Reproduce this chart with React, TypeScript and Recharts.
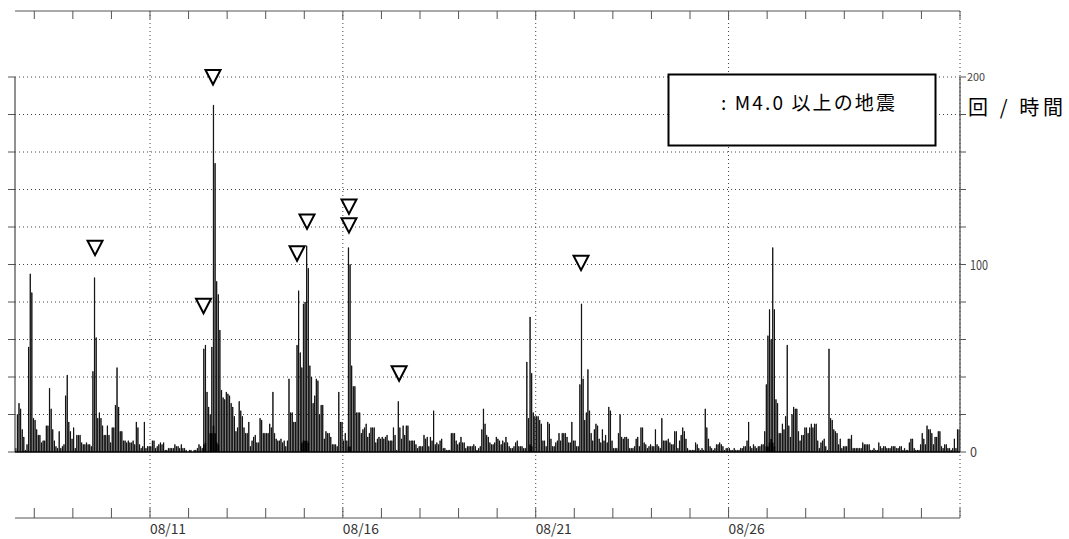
import { ComposedChart, Bar, Scatter, XAxis, YAxis, CartesianGrid, ReferenceLine } from 'recharts';

// hourly counts (回/時間). 08/07 starts at 12:00, every other day at 00:00
const aug07 = [2, 20, 26, 23, 12, 8, 1, 4, 56, 95, 85, 18];
const aug08 = [17, 12, 9, 9, 5, 6, 6, 14, 14, 34, 23, 12, 6, 3, 2, 11, 2, 3, 4, 30, 41, 16, 11, 7];
const aug09 = [13, 2, 9, 9, 9, 5, 4, 4, 5, 4, 4, 3, 43, 93, 61, 18, 21, 18, 14, 9, 9, 14, 9, 5];
const aug10 = [13, 13, 25, 45, 24, 11, 11, 6, 6, 5, 6, 5, 5, 6, 4, 16, 13, 4, 2, 3, 16, 2, 3, 3];
const aug11 = [3, 6, 6, 2, 3, 4, 5, 4, 5, 1, 1, 2, 2, 2, 2, 4, 3, 3, 2, 4, 2, 2, 1, 0];
const aug12 = [1, 1, 0, 1, 1, 2, 4, 3, 2, 55, 57, 32, 24, 20, 56, 185, 154, 91, 84, 65, 33, 29, 28, 32];
const aug13 = [31, 30, 26, 24, 19, 11, 13, 27, 22, 19, 13, 10, 10, 16, 3, 6, 8, 9, 5, 5, 18, 17, 10, 10];
const aug14 = [10, 10, 15, 13, 32, 10, 7, 6, 6, 7, 5, 6, 3, 6, 39, 21, 21, 16, 16, 57, 86, 53, 45, 79];
const aug15 = [80, 110, 98, 46, 40, 26, 30, 39, 38, 20, 25, 25, 7, 11, 10, 10, 8, 4, 4, 4, 3, 32, 16, 16];
const aug16 = [6, 10, 6, 109, 100, 46, 35, 35, 21, 21, 21, 10, 12, 13, 15, 8, 10, 13, 13, 13, 5, 7, 8, 7];
const aug17 = [8, 7, 8, 9, 6, 6, 6, 13, 9, 1, 27, 13, 7, 14, 9, 14, 14, 6, 6, 6, 6, 4, 2, 3];
const aug18 = [3, 3, 9, 7, 8, 3, 8, 6, 22, 4, 5, 4, 6, 7, 2, 2, 1, 1, 1, 10, 10, 10, 6, 4];
const aug19 = [5, 8, 5, 5, 2, 3, 3, 3, 3, 4, 3, 1, 2, 3, 12, 23, 15, 9, 8, 5, 4, 4, 5, 8];
const aug20 = [7, 6, 4, 6, 5, 8, 5, 3, 2, 2, 3, 5, 6, 3, 3, 3, 2, 2, 48, 18, 72, 42, 21, 19];
const aug21 = [19, 19, 17, 15, 6, 6, 3, 16, 15, 7, 3, 3, 5, 6, 10, 6, 10, 10, 10, 8, 5, 5, 16, 6];
const aug22 = [6, 3, 3, 36, 79, 39, 17, 21, 44, 22, 10, 6, 12, 15, 14, 7, 5, 12, 6, 9, 5, 24, 22, 6];
const aug23 = [2, 2, 2, 10, 20, 8, 7, 8, 8, 7, 2, 2, 2, 3, 7, 8, 3, 13, 13, 5, 4, 2, 3, 4];
const aug24 = [3, 3, 12, 4, 3, 2, 18, 6, 6, 6, 7, 5, 4, 4, 11, 11, 2, 6, 9, 13, 11, 7, 2, 1];
const aug25 = [1, 1, 1, 5, 4, 2, 1, 2, 1, 23, 13, 7, 3, 2, 1, 2, 4, 4, 5, 4, 3, 1, 2, 2];
const aug26 = [2, 1, 1, 2, 1, 1, 1, 2, 2, 3, 3, 6, 16, 3, 2, 4, 3, 2, 3, 3, 4, 4, 11, 36];
const aug27 = [62, 76, 60, 109, 76, 28, 26, 10, 10, 15, 12, 19, 57, 14, 8, 20, 24, 23, 23, 11, 6, 9, 9, 13];
const aug28 = [13, 10, 13, 15, 13, 15, 15, 6, 2, 5, 6, 7, 3, 1, 55, 18, 17, 12, 11, 10, 4, 7, 2, 3];
const aug29 = [3, 3, 7, 7, 9, 2, 2, 2, 2, 2, 2, 5, 4, 4, 4, 4, 1, 1, 2, 1, 1, 5, 3, 2];
const aug30 = [3, 3, 2, 2, 2, 3, 3, 3, 2, 2, 3, 3, 1, 2, 1, 1, 5, 7, 7, 2, 1, 1, 1, 4];
const aug31 = [10, 7, 4, 14, 12, 12, 10, 4, 8, 8, 11, 11, 3, 2, 4, 4, 2, 2, 1, 2, 7, 2, 12, 12];

// black part at the foot of some hourly bars
const blackCounts: [string, number][] = [
  ['08/12 09', 4], ['08/12 10', 5], ['08/12 13', 10], ['08/12 14', 10], ['08/12 15', 14],
  ['08/12 16', 10], ['08/12 17', 5], ['08/12 18', 4],
  ['08/14 22', 5], ['08/14 23', 6], ['08/15 00', 6], ['08/15 01', 6], ['08/15 02', 5],
  ['08/16 03', 3], ['08/16 04', 3], ['08/20 20', 4], ['08/20 21', 3],
  ['08/26 23', 3], ['08/27 00', 3], ['08/27 01', 5], ['08/27 02', 7], ['08/27 03', 5], ['08/27 04', 3],
];

// M4.0+ events and the height of their ▽ mark
const m4Times = ['08/09 13:48', '08/12 09:18', '08/12 15:12', '08/14 19:30', '08/15 01:42', '08/16 03:48', '08/16 03:48', '08/17 11:00', '08/22 04:12'];
const m4Marks = [109, 78, 200, 106, 123, 131, 121, 42, 101];

const dateLabels = ['08/11', '08/16', '08/21', '08/26'];
const countTicks = [0, 20, 40, 60, 80, 100, 120, 140, 160, 180, 200];
const countLabels = [0, 100, 200];

// hours since 08/07 12:00
const toHour = (s: string) => {
  const [md, hm = '00'] = s.split(' ');
  const [mo, d] = md.split('/').map(Number);
  const [hh, mm = 0] = hm.split(':').map(Number);
  return ((mo - 8) * 31 + d - 7) * 24 + hh + mm / 60 - 12;
};

const END = toHour('09/01');
const dayTicks = Array.from({ length: 25 }, (_, i) => toHour('08/08') + 24 * i);
const gridHours = [...dateLabels, '09/01'].map((d) => toHour(d));

const hourly = [aug07, aug08, aug09, aug10, aug11, aug12, aug13, aug14, aug15, aug16, aug17, aug18, aug19,
  aug20, aug21, aug22, aug23, aug24, aug25, aug26, aug27, aug28, aug29, aug30, aug31].flat();
const data = hourly.map((v, i) => ({ t: i + 0.5, v, b: 0 }));
blackCounts.forEach(([w, n]) => { data[Math.floor(toHour(w))].b = n; });
const quakes = m4Times.map((w, i) => ({ t: toHour(w), y: m4Marks[i] }));

const axisColor = '#555';
const labelFont = '"Noto Sans CJK JP", sans-serif';

const BottomTick = ({ x, y, payload }: any) => {
  const label = dateLabels.find((d) => toHour(d) === payload.value);
  return (
    <g>
      <line x1={x} y1={y} x2={x} y2={y - 10} stroke={axisColor} />
      {label && (
        <text x={x} y={y + 16} fontSize={14} fontFamily={labelFont} fill="#333" textLength={36} lengthAdjust="spacingAndGlyphs">
          {label}
        </text>
      )}
    </g>
  );
};

const TopTick = ({ x, y }: any) => <line x1={x} y1={y} x2={x} y2={y + 8} stroke={axisColor} />;

const LeftTick = ({ x, y }: any) => <line x1={x - 7} y1={y} x2={x} y2={y} stroke={axisColor} />;

const RightTick = ({ x, y, payload }: any) => {
  const v = payload.value;
  const size = v === 200 ? 11 : 14;
  return (
    <g>
      <line x1={x} y1={y} x2={x + 6} y2={y} stroke={axisColor} />
      {countLabels.includes(v) && (
        <text x={x + (v === 200 ? 7 : 10)} y={y + size * 0.38} fontSize={size} fontFamily={labelFont} fill="#444"
          textLength={v === 0 ? 7 : 18} lengthAdjust="spacingAndGlyphs">
          {v}
        </text>
      )}
    </g>
  );
};

const Tri = ({ cx, cy }: any) => (
  <polygon points={`${cx - 7.5},${cy - 7} ${cx + 7.5},${cy - 7} ${cx},${cy + 7.5}`} fill="#fff" stroke="#000" strokeWidth={2} />
);

const App = () => (
  <div style={{ position: 'absolute', left: 0, top: 0, width: 1069, height: 539, background: '#fff' }}>
    <ComposedChart width={1069} height={539} data={data} margin={{ top: 0, right: 0, bottom: 0, left: 0 }}>
      <XAxis xAxisId="b" dataKey="t" type="number" domain={[0, END]} ticks={dayTicks} interval={0}
        tickSize={0} tickMargin={0} height={21} axisLine={{ stroke: axisColor }} tick={BottomTick} />
      <XAxis xAxisId="top" orientation="top" dataKey="t" type="number" domain={[0, END]} ticks={dayTicks} interval={0}
        tickSize={0} tickMargin={0} height={11} axisLine={{ stroke: axisColor }} tick={TopTick} />
      <YAxis yAxisId="l" type="number" domain={[-35.2, 235.2]} ticks={countTicks} interval={0} width={15}
        tickSize={0} tickMargin={0} axisLine={false} tick={LeftTick} />
      <YAxis yAxisId="r" orientation="right" type="number" domain={[-35.2, 235.2]} ticks={countTicks} interval={0} width={109}
        tickSize={0} tickMargin={0} axisLine={false} tick={RightTick} />
      <CartesianGrid xAxisId="b" yAxisId="l" horizontalValues={countTicks.slice(1)} verticalValues={gridHours}
        stroke="#444" strokeDasharray="1 3" />
      <ReferenceLine xAxisId="b" yAxisId="l" segment={[{ x: 0, y: 0 }, { x: 0, y: 200 }]} stroke={axisColor} strokeWidth={1.3} />
      <ReferenceLine xAxisId="b" yAxisId="l" segment={[{ x: END, y: 0 }, { x: END, y: 200 }]} stroke={axisColor} strokeWidth={1.3} />
      <Bar xAxisId="b" yAxisId="l" dataKey="v" barSize={2.3} fill="#858585" stroke="#000" strokeWidth={0.8} isAnimationActive={false} />
      <Bar xAxisId="top" yAxisId="l" dataKey="b" barSize={1.6} fill="#000" isAnimationActive={false} />
      <ReferenceLine xAxisId="b" yAxisId="l" y={0} stroke="#000" strokeWidth={1.5} />
      <Scatter xAxisId="b" yAxisId="r" data={quakes} dataKey="y" shape={Tri} isAnimationActive={false} />
    </ComposedChart>
    <svg width={1069} height={539} style={{ position: 'absolute', left: 0, top: 0, pointerEvents: 'none' }}>
      <rect x={668.5} y={74.5} width={267} height={71} fill="#fff" stroke="#000" strokeWidth={2} />
      <text x={721} y={110} fontSize={19} fontFamily={labelFont} fill="#000" textLength={174} lengthAdjust="spacing">
        : M4.0 以上の地震
      </text>
      <text x={968} y={115} fontSize={20} fontFamily={labelFont} fill="#000" textLength={95} lengthAdjust="spacing">
        回 / 時間
      </text>
    </svg>
  </div>
);

export default App;
